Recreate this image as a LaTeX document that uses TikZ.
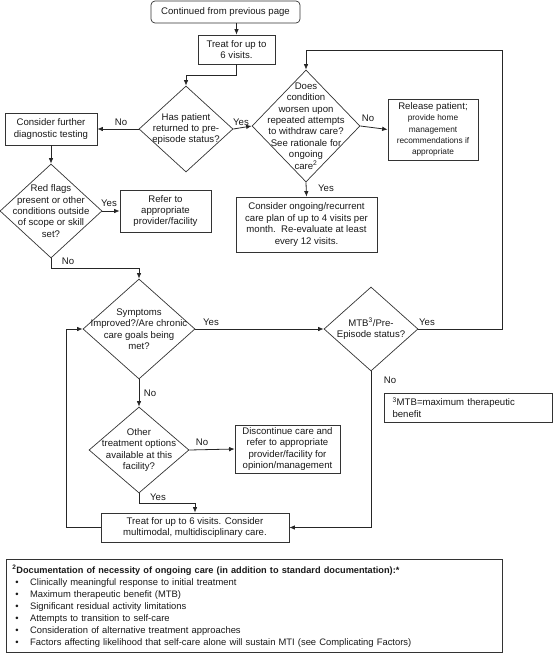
\documentclass[tikz,border=0pt]{standalone}
\usepackage{fontspec}
\setmainfont{Liberation Sans}
\usetikzlibrary{shapes.geometric,arrows.meta}
\begin{document}
\begin{tikzpicture}[x=1pt,y=-1pt,
  every node/.style={font=\fontsize{9.6}{11.4}\selectfont, text=black!90},
  box/.style={draw=black!80, line width=0.7pt, rectangle, inner sep=1pt, align=center},
  dia/.style={draw=black!80, line width=0.7pt, diamond, inner sep=0pt},
  txt/.style={align=center, inner sep=0pt},
  lbl/.style={inner sep=0pt},
  arr/.style={draw=black!85, line width=0.8pt, -{Latex[length=5.5pt,width=4.5pt]}},
  ln/.style={draw=black!85, line width=0.8pt}
]
\useasboundingbox (0,0) rectangle (553,653);

% boxes
\node[box, rounded corners=4pt, minimum width=149pt, minimum height=22pt] (start) at (225.5,12) {Continued from previous page};
\node[box, minimum width=77pt, minimum height=29pt] (treat1) at (236.5,49.5) {Treat for up to\\6 visits.};
\node[box, minimum width=92pt, minimum height=32pt] (diag) at (51,129) {Consider further\\diagnostic testing};
\node[box, minimum width=90pt, minimum height=61pt] (release) at (433,129.5) {Release patient;\\ \fontsize{8.3}{10}\selectfont provide home\\ \fontsize{8.3}{10}\selectfont management\\ \fontsize{8.3}{10}\selectfont recommendations if\\ \fontsize{8.3}{10}\selectfont appropriate};
\node[box, minimum width=141pt, minimum height=55pt] (ongoing) at (306.5,224.5) {Consider ongoing/recurrent\\care plan of up to 4 visits per\\month.\ \ Re-evaluate at least\\every 12 visits.};
\node[box, minimum width=91pt, minimum height=42pt] (refer) at (165.5,211) {Refer to\\appropriate\\provider/facility};
\node[box, minimum width=168pt, minimum height=29pt, align=left, text width=151pt, inner xsep=8.5pt] (foot3) at (468,407.5) {\textsuperscript{3}MTB=maximum therapeutic\\benefit};
\node[box, minimum width=105pt, minimum height=48pt] (discont) at (287.5,449) {Discontinue care and\\refer to appropriate\\provider/facility for\\opinion/management};
\node[box, minimum width=188pt, minimum height=29pt] (treat2) at (195,527.5) {Treat for up to 6 visits. Consider\\multimodal, multidisciplinary care.};

% diamonds
\node[dia, minimum width=94pt, minimum height=86pt, label={[txt]center:{Has patient\\returned to pre-\\episode status?}}] (d1) at (186,129) {};
\node[dia, minimum width=108pt, minimum height=112pt, label={[txt]center:{Does\\condition\\worsen upon\\repeated attempts\\to withdraw care?\\See rationale for\\ongoing\\care\textsuperscript{2}}}] (d2) at (306,126) {};
\node[dia, minimum width=102pt, minimum height=94pt, label={[txt]center:{Red flags\\present or other\\conditions outside\\of scope or skill\\set?}}] (d3) at (51,211) {};
\node[dia, minimum width=112pt, minimum height=100pt, label={[txt]center:{Symptoms\\Improved?/Are chronic\\care goals being\\met?}}] (d4) at (139,329) {};
\node[dia, minimum width=94pt, minimum height=84pt, label={[txt]center:{MTB\textsuperscript{3}/Pre-\\Episode status?}}] (d5) at (371,329) {};
\node[dia, minimum width=100pt, minimum height=86pt, label={[txt]center:{Other\\treatment options\\available at this\\facility?}}] (d6) at (139,450) {};

% documentation box
\node[box, anchor=north west, minimum width=496pt, minimum height=93pt, align=left, text width=484pt, inner xsep=6pt, inner ysep=2pt,
  font=\fontsize{9.4}{12}\selectfont] (doc) at (6,559) {%
\textbf{\fontsize{9.2}{12}\selectfont\textsuperscript{2}Documentation of necessity of ongoing care (in addition to standard documentation):*}\\
\hspace*{3pt}\textbullet\hspace{11.5pt}Clinically meaningful response to initial treatment\\
\hspace*{3pt}\textbullet\hspace{11.5pt}Maximum therapeutic benefit (MTB)\\
\hspace*{3pt}\textbullet\hspace{11.5pt}Significant residual activity limitations\\
\hspace*{3pt}\textbullet\hspace{11.5pt}Attempts to transition to self-care\\
\hspace*{3pt}\textbullet\hspace{11.5pt}Consideration of alternative treatment approaches\\
\hspace*{3pt}\textbullet\hspace{11.5pt}Factors affecting likelihood that self-care alone will sustain MTI (see Complicating Factors)};

% helper coordinates
\coordinate (loopTR) at (502,50);
\coordinate (loopL) at (66,0);

% connectors
\draw[arr] (treat1.north |- start.south) -- (treat1.north);
\draw[arr] (treat1.south) -- ++(0,11) -| (d1.north);
\draw[arr] (d1.west) -- (diag.east);
\draw[arr] (d1.east) -- (d2.west);
\draw[arr] (d2.east) -- (release.west);
\draw[arr] (d2.south) -- (ongoing.north);
\draw[arr] (diag.south) -- (d3.north);
\draw[arr] (d3.east) -- (refer.west);
\draw[arr] (d3.south) -- ++(0,10) -| (d4.north);
\draw[arr] (d4.east) -- (d5.west);
\draw[arr] (d5.east) -| (loopTR) -| (d2.north);
\draw[arr] (d5.south) |- (treat2.east);
\draw[arr] (d4.south) -- (d6.north);
\draw[arr] (d6.east) -- (discont.west);
\draw[arr] (d6.south) -- ++(0,10) -| (treat2.north);
\draw[arr] (treat2.west) -| (loopL |- d4.west) -- (d4.west);

% labels
\node[lbl] (l1) at (121,122) {No};
\node[lbl] (l2) at (241,122) {Yes};
\node[lbl] (l3) at (368,118) {No};
\node[lbl] (l4) at (326,188) {Yes};
\node[lbl] (l5) at (109,203) {Yes};
\node[lbl] (l6) at (68,261) {No};
\node[lbl] (l7) at (211,322) {Yes};
\node[lbl] (l8) at (427,322) {Yes};
\node[lbl] (l9) at (390,380) {No};
\node[lbl] (l10) at (150,393) {No};
\node[lbl] (l11) at (202,442) {No};
\node[lbl] (l12) at (158,497) {Yes};
\end{tikzpicture}
\end{document}
